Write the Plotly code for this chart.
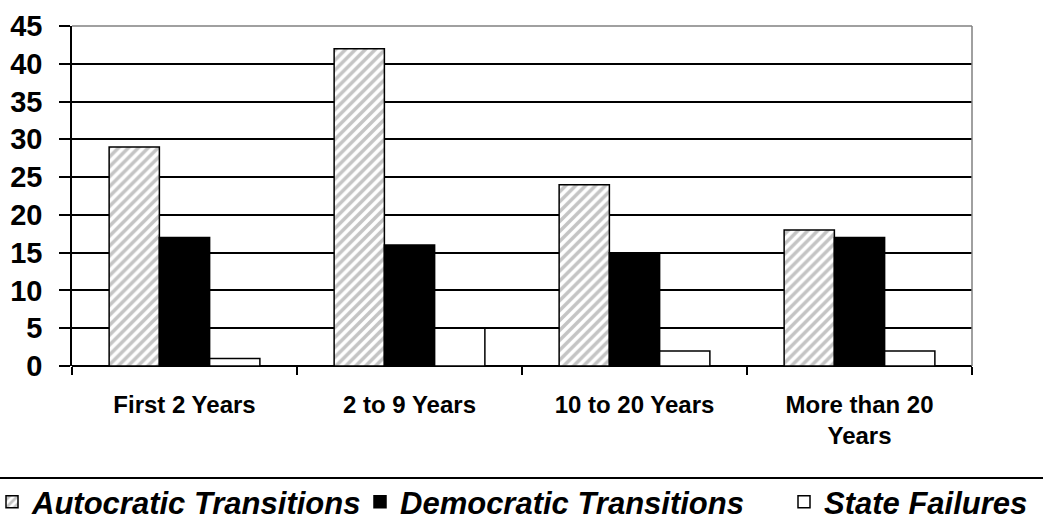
import plotly.graph_objects as go

categories = ["First 2 Years", "2 to 9 Years", "10 to 20 Years", "More than 20<br>Years"]
autocratic = [29, 42, 24, 18]
democratic = [17, 16, 15, 17]
state_failures = [1, 5, 2, 2]
y_ticks = [0, 5, 10, 15, 20, 25, 30, 35, 40, 45]

FONT = "Liberation Sans, Arial, sans-serif"
line = dict(color="black", width=1.5)
W, H = 1043, 523
L, R, T, B = 72, 71, 26, 157
PW = W - L - R

fig = go.Figure()
fig.add_trace(go.Bar(
    name="Autocratic Transitions", x=categories, y=autocratic, legend="legend",
    marker=dict(color="white", line=line,
                pattern=dict(shape="/", fgcolor="#8a8a8a", bgcolor="white", size=7, solidity=0.5)),
))
fig.add_trace(go.Bar(
    name="Democratic Transitions", x=categories, y=democratic, legend="legend2",
    marker=dict(color="black", line=line),
))
fig.add_trace(go.Bar(
    name="State Failures", x=categories, y=state_failures, legend="legend3",
    marker=dict(color="white", line=line),
))

legend_font = dict(family=FONT, size=31, weight="bold", style="italic", color="black")


def leg(text_left_px):
    return dict(
        xref="paper", x=(text_left_px - 40 - L) / PW, xanchor="left",
        yref="container", y=(H - 502) / H, yanchor="middle",
        font=legend_font, itemclick=False, itemdoubleclick=False,
        bgcolor="rgba(0,0,0,0)", borderwidth=0,
    )


fig.update_layout(
    width=W, height=H,
    margin=dict(l=L, r=R, t=T, b=B, autoexpand=False),
    paper_bgcolor="white", plot_bgcolor="white",
    barmode="group", bargap=0.33, bargroupgap=0,
    font=dict(family=FONT, color="black"),
    showlegend=True,
    legend=leg(32), legend2=leg(400), legend3=leg(824),
    xaxis=dict(
        type="category", tickson="boundaries", ticks="outside", ticklen=8,
        tickcolor="black", tickwidth=1.5, automargin=False,
        showline=False, showgrid=False,
        tickfont=dict(family=FONT, size=24, weight="bold", color="black"),
        ticklabelstandoff=22,
    ),
    yaxis=dict(
        range=[0, 45], tickvals=y_ticks, ticks="outside", ticklen=11,
        tickcolor="black", tickwidth=1.5, automargin=False,
        showline=True, linecolor="black", linewidth=1.5,
        showgrid=True, gridcolor="black", gridwidth=1.5,
        zeroline=True, zerolinecolor="black", zerolinewidth=1.5,
        tickfont=dict(family=FONT, size=29, weight="bold", color="black"),
        ticklabelstandoff=11,
    ),
    shapes=[
        dict(type="line", xref="paper", yref="paper", x0=0, x1=1, y0=1, y1=1,
             line=dict(color="#808080", width=1.5), layer="above"),
        dict(type="line", xref="paper", yref="paper", x0=1, x1=1, y0=0, y1=1,
             line=dict(color="#808080", width=1.5), layer="above"),
        dict(type="line", xref="paper", yref="paper", x0=-0.09, x1=1.09,
             y0=(366 - 478) / 340, y1=(366 - 478) / 340,
             line=dict(color="black", width=2)),
    ],
)

fig.write_html("out.html")
